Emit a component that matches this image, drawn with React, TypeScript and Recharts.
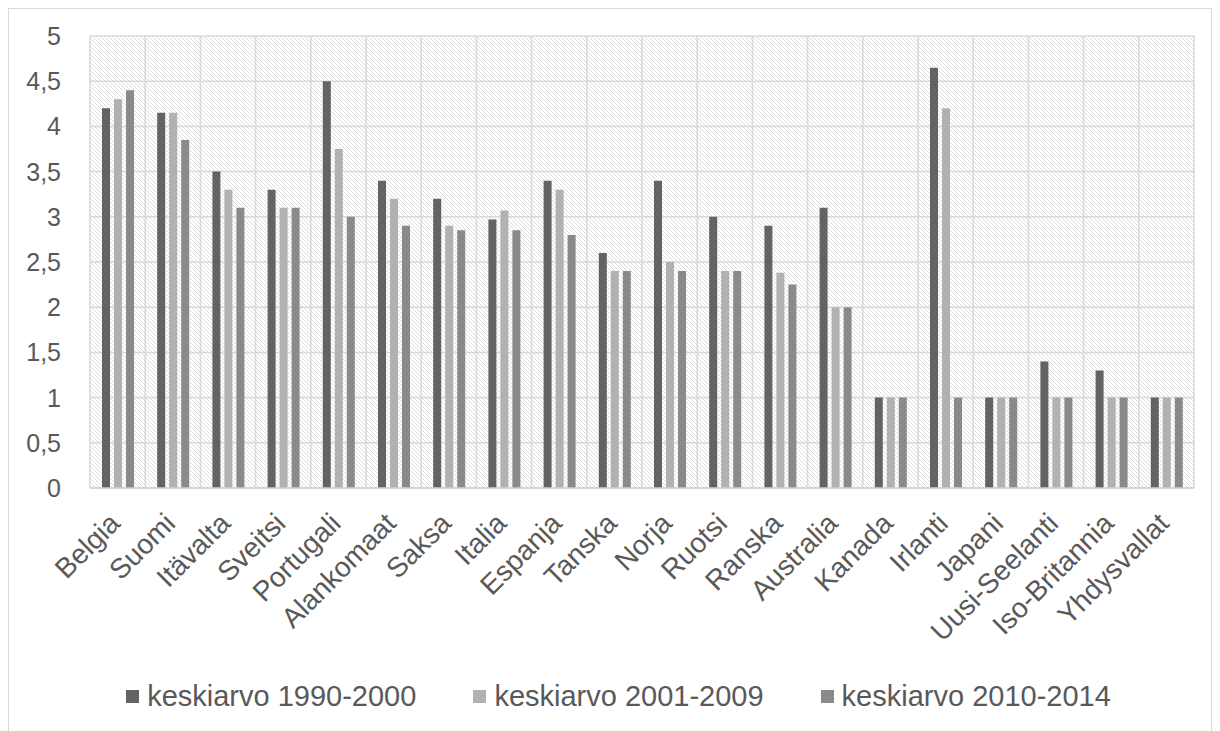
import { BarChart, Bar, XAxis, YAxis, CartesianGrid, Legend } from "recharts";

const countries = [
  "Belgia", "Suomi", "Itävalta", "Sveitsi", "Portugali", "Alankomaat", "Saksa",
  "Italia", "Espanja", "Tanska", "Norja", "Ruotsi", "Ranska", "Australia",
  "Kanada", "Irlanti", "Japani", "Uusi-Seelanti", "Iso-Britannia", "Yhdysvallat",
];

const avg1990 = [4.2, 4.15, 3.5, 3.3, 4.5, 3.4, 3.2, 2.97, 3.4, 2.6, 3.4, 3.0, 2.9, 3.1, 1, 4.65, 1, 1.4, 1.3, 1];
const avg2001 = [4.3, 4.15, 3.3, 3.1, 3.75, 3.2, 2.9, 3.07, 3.3, 2.4, 2.5, 2.4, 2.38, 2.0, 1, 4.2, 1, 1, 1, 1];
const avg2010 = [4.4, 3.85, 3.1, 3.1, 3.0, 2.9, 2.85, 2.85, 2.8, 2.4, 2.4, 2.4, 2.25, 2.0, 1, 1, 1, 1, 1, 1];

const yTicks = [0, 0.5, 1, 1.5, 2, 2.5, 3, 3.5, 4, 4.5, 5];

const seriesNames = ["keskiarvo 1990-2000", "keskiarvo 2001-2009", "keskiarvo 2010-2014"];
const colors = ["#636363", "#b1b1b1", "#8a8a8a"];

const data = countries.map((name, i) => ({
  name,
  a: avg1990[i],
  b: avg2001[i],
  c: avg2010[i],
}));

const FONT = "'Liberation Sans', Arial, sans-serif";
const TEXT = "#595959";

const XTick = (props: any) => {
  const { x, y, payload } = props;
  const tx = x + 4;
  const ty = y + 29;
  return (
    <text
      x={tx}
      y={ty}
      textAnchor="end"
      fill={TEXT}
      fontSize={28}
      fontFamily={FONT}
      transform={`rotate(-45, ${tx}, ${ty})`}
    >
      {payload.value}
    </text>
  );
};

const YTick = (props: any) => {
  const { x, y, payload } = props;
  return (
    <text x={x - 21} y={y} dy={9} textAnchor="end" fill={TEXT} fontSize={25} fontFamily={FONT}>
      {String(payload.value).replace(".", ",")}
    </text>
  );
};

const LegendContent = () => (
  <div
    style={{
      display: "flex",
      justifyContent: "center",
      alignItems: "center",
      height: 50,
      paddingLeft: 34,
      boxSizing: "border-box",
      fontFamily: FONT,
      fontSize: 29,
      color: TEXT,
      gap: 57,
    }}
  >
    {seriesNames.map((n, i) => (
      <div key={n} style={{ display: "flex", alignItems: "center" }}>
        <span style={{ width: 13, height: 13, background: colors[i], marginRight: 8, display: "inline-block" }} />
        <span>{n}</span>
      </div>
    ))}
  </div>
);

export default function App() {
  return (
    <div style={{ width: 1202, height: 722, border: "1px solid #d9d9d9", background: "#fff" }}>
      <BarChart
        width={1202}
        height={720}
        data={data}
        margin={{ top: 27, right: 17, left: 0, bottom: 8 }}
        barSize={8}
        barGap={4}
      >
        <defs>
          <pattern id="hatch" width="4" height="4" patternUnits="userSpaceOnUse">
            <rect width="4" height="4" fill="#ffffff" />
            <path d="M-1,-1 L5,5 M-1,3 L1,5 M3,-1 L5,1" stroke="#d9d9d9" strokeWidth="0.9" />
          </pattern>
        </defs>
        <CartesianGrid
          fill="url(#hatch)"
          fillOpacity={1}
          stroke="#d9d9d9"
          strokeWidth={1.5}
          verticalCoordinatesGenerator={({ offset }: any) =>
            countries.map((_, i) => offset.left + (i * offset.width) / countries.length).concat(offset.left + offset.width)
          }
        />
        <XAxis
          dataKey="name"
          interval={0}
          tick={<XTick />}
          tickLine={false}
          axisLine={{ stroke: "#d0d0d0", strokeWidth: 1.5 }}
          height={183}
        />
        <YAxis
          domain={[0, 5]}
          ticks={yTicks}
          tick={<YTick />}
          tickLine={false}
          axisLine={false}
          width={81}
        />
        <Legend verticalAlign="bottom" height={50} content={<LegendContent />} />
        <Bar dataKey="a" name={seriesNames[0]} fill={colors[0]} isAnimationActive={false} />
        <Bar dataKey="b" name={seriesNames[1]} fill={colors[1]} isAnimationActive={false} />
        <Bar dataKey="c" name={seriesNames[2]} fill={colors[2]} isAnimationActive={false} />
      </BarChart>
    </div>
  );
}
